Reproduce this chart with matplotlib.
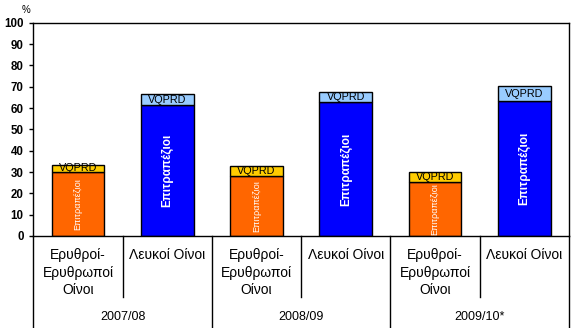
import matplotlib.pyplot as plt
from matplotlib.transforms import blended_transform_factory

plt.rcParams['font.family'] = ['Liberation Sans', 'DejaVu Sans']

# --- Data ---
seasons = ["2007/08", "2008/09", "2009/10*"]
categories = ["Ερυθροί-\nΕρυθρωποί\nΟίνοι", "Λευκοί Οίνοι"]
red_table = [30.0, 27.9, 25.4]
red_vqprd = [3.5, 4.7, 4.4]
white_table = [61.4, 62.6, 63.2]
white_vqprd = [5.0, 4.7, 6.9]

# --- Figure ---
fig = plt.figure(figsize=(5.77, 3.28), dpi=100)
W, H = 577, 328
left, right, top, bottom = 33.3, 569, 22.7, 236
ax = fig.add_axes([left / W, 1 - bottom / H, (right - left) / W, (bottom - top) / H])

bar_w = 0.59
for i in range(len(seasons)):
    xr = 2 * i
    xw = 2 * i + 1
    ax.bar(xr, red_table[i], bar_w, color="#FF6600", edgecolor="black", linewidth=1)
    ax.bar(xr, red_vqprd[i], bar_w, bottom=red_table[i], color="#FFCC00",
           edgecolor="black", linewidth=1)
    ax.bar(xw, white_table[i], bar_w, color="#0000FF", edgecolor="black", linewidth=1)
    ax.bar(xw, white_vqprd[i], bar_w, bottom=white_table[i], color="#99CCFF",
           edgecolor="black", linewidth=1)

    ax.text(xr, red_table[i] / 2, "Επιτραπέζιοι", rotation=90, color="white",
            ha="center", va="center", fontsize=6.5)
    ax.text(xw, white_table[i] / 2, "Επιτραπέζιοι", rotation=90, color="white",
            ha="center", va="center", fontsize=8.5, fontweight="bold")
    ax.text(xr, red_table[i] + red_vqprd[i] / 2, "VQPRD", color="black",
            ha="center", va="center", fontsize=7.8)
    ax.text(xw, white_table[i] + white_vqprd[i] / 2, "VQPRD", color="black",
            ha="center", va="center", fontsize=7.8)

ax.set_xlim(-0.5, 5.5)
ax.set_ylim(0, 100)
ax.set_yticks(range(0, 101, 10))
ax.set_xticks([])
ax.tick_params(axis="y", direction="out", length=3, width=1, pad=4)
for lab in ax.get_yticklabels():
    lab.set_fontsize(8.3)
    lab.set_fontweight("bold")
for s in ax.spines.values():
    s.set_linewidth(1)

# --- Category axis below ---
tr = blended_transform_factory(ax.transData, ax.transAxes)
ph = bottom - top
inner_bot = -(297 - bottom) / ph
outer_bot = -(H - bottom) / ph

for x in [0.5, 2.5, 4.5]:
    ax.plot([x, x], [0, inner_bot], color="black", lw=1, transform=tr, clip_on=False)
for x in [-0.5, 1.5, 3.5, 5.5]:
    ax.plot([x, x], [0, outer_bot], color="black", lw=1, transform=tr, clip_on=False)

line_y = [255, 272.5, 290]
for i, season in enumerate(seasons):
    for j, cat in enumerate(categories):
        for k, line in enumerate(cat.split("\n")):
            ax.text(2 * i + j, -(line_y[k] - bottom) / ph, line, transform=tr,
                    ha="center", va="center", fontsize=10)
    ax.text(2 * i + 0.5, -(316.5 - bottom) / ph, season, transform=tr,
            ha="center", va="center", fontsize=9)

fig.text(26 / W, 1 - 10 / H, "%", ha="center", va="center", fontsize=7)

plt.savefig("out.png", dpi=100)
